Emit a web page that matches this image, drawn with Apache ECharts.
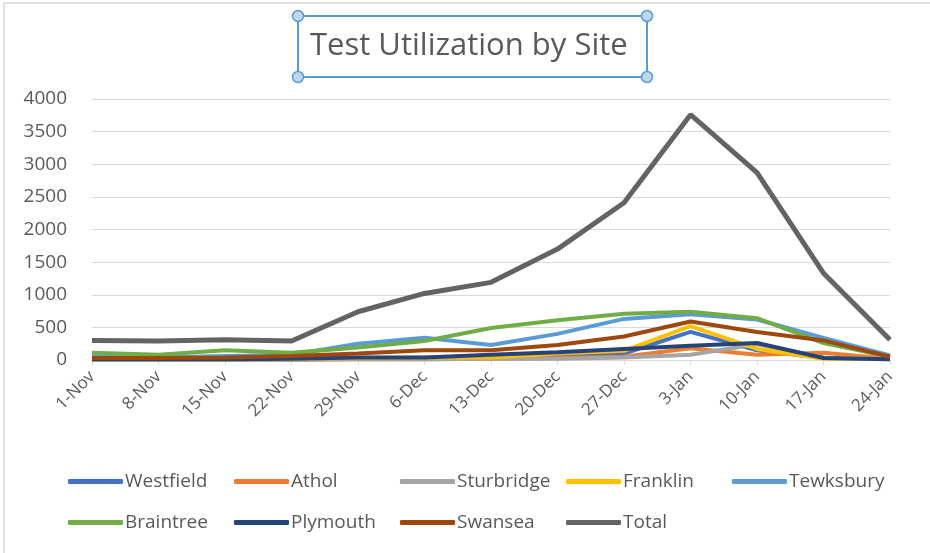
<!DOCTYPE html>
<html>
<head>
<meta charset="utf-8">
<script src="https://cdn.jsdelivr.net/npm/echarts@6/dist/echarts.min.js"></script>
<style>
  html, body { margin: 0; padding: 0; background: #fff; }
  #chart { width: 930px; height: 553px; }
</style>
</head>
<body>
<div id="chart"></div>
<script>
// weekly test counts
const weeks = ['1-Nov', '8-Nov', '15-Nov', '22-Nov', '29-Nov', '6-Dec', '13-Dec',
  '20-Dec', '27-Dec', '3-Jan', '10-Jan', '17-Jan', '24-Jan'];

const westfield  = [10, 10, 10, 10, 20, 30, 40, 60, 100, 430, 150, 30, 20];
const athol      = [5, 5, 5, 5, 10, 10, 20, 30, 50, 180, 80, 110, 20];
const sturbridge = [5, 5, 5, 5, 10, 10, 20, 20, 40, 80, 240, 40, 10];
const franklin   = [10, 10, 10, 20, 30, 40, 40, 100, 140, 520, 170, 20, 20];
const tewksbury  = [50, 40, 60, 80, 250, 340, 230, 400, 630, 700, 620, 340, 70];
const braintree  = [110, 80, 150, 110, 190, 290, 490, 610, 710, 740, 640, 260, 50];
const plymouth   = [10, 10, 10, 20, 40, 40, 80, 120, 170, 220, 260, 30, 10];
const swansea    = [30, 30, 40, 60, 100, 150, 150, 230, 360, 590, 430, 300, 50];
const total      = [300, 290, 310, 290, 740, 1020, 1190, 1700, 2410, 3760, 2870, 1330, 310];

const siteNames = ['Westfield', 'Athol', 'Sturbridge', 'Franklin', 'Tewksbury',
  'Braintree', 'Plymouth', 'Swansea', 'Total'];
const siteData = [westfield, athol, sturbridge, franklin, tewksbury,
  braintree, plymouth, swansea, total];
const siteColors = ['#4472C4', '#ED7D31', '#A5A5A5', '#FFC000', '#5B9BD5',
  '#70AD47', '#264478', '#9E480E', '#636363'];

const FONT = '"Open Sans", "Noto Sans", sans-serif';
const chart = echarts.init(document.getElementById('chart'));

// blue selection handles around the title box (Excel look)
const handle = (cx, cy) => ({
  type: 'circle', shape: { cx: cx, cy: cy, r: 5.5 },
  style: { fill: '#BDD7EE', stroke: '#5B9BD5', lineWidth: 1.5 }, z: 10
});

// legend laid out as Excel does: fixed-width columns (5 per row), two rows
const legendItem = (name, i) => ({
  data: [name],
  left: 63 + (i % 5) * 166,
  top: i < 5 ? 467 : 508,
  itemWidth: 55,
  itemHeight: 5,
  icon: 'roundRect',
  textStyle: { fontFamily: FONT, fontSize: 19, color: '#595959', padding: [0, 0, 0, -3] }
});

chart.setOption({
  backgroundColor: '#fff',
  animation: false,
  title: {
    text: 'Test Utilization by Site',
    left: 310,
    top: 31,
    padding: 0,
    textStyle: { fontFamily: FONT, fontSize: 31, fontWeight: 'normal', color: '#595959' }
  },
  legend: siteNames.map(legendItem),
  grid: { left: 92, right: 40, top: 99, bottom: 193, containLabel: false },
  xAxis: {
    type: 'category',
    data: weeks,
    boundaryGap: false,
    axisLine: { lineStyle: { color: '#d9d9d9', width: 1 } },
    axisTick: { show: true, length: 5, lineStyle: { color: '#d9d9d9' } },
    axisLabel: { rotate: 45, margin: 14, fontFamily: FONT, fontSize: 17, color: '#595959' }
  },
  yAxis: {
    type: 'value',
    min: 0,
    max: 4000,
    interval: 500,
    axisLine: { show: false },
    axisTick: { show: false },
    axisLabel: { margin: 25, fontFamily: FONT, fontSize: 19, color: '#595959', formatter: v => String(v) },
    splitLine: { lineStyle: { color: '#d9d9d9', width: 1 } }
  },
  series: siteNames.map((name, i) => ({
    name: name,
    type: 'line',
    data: siteData[i],
    showSymbol: false,
    smooth: false,
    color: siteColors[i],
    lineStyle: { width: i === 8 ? 5 : 4, color: siteColors[i] },
    z: i === 8 ? 5 : 2
  })),
  graphic: [
    { type: 'rect', shape: { x: 4, y: 3, width: 940, height: 560 },
      style: { fill: 'none', stroke: '#d9d9d9', lineWidth: 1.5 }, silent: true, z: -1 },
    { type: 'rect', shape: { x: 298, y: 16, width: 349, height: 61 },
      style: { fill: 'none', stroke: '#5B9BD5', lineWidth: 2 }, z: 9 },
    handle(298, 16), handle(647, 16), handle(298, 77), handle(647, 77)
  ]
});
</script>
</body>
</html>
